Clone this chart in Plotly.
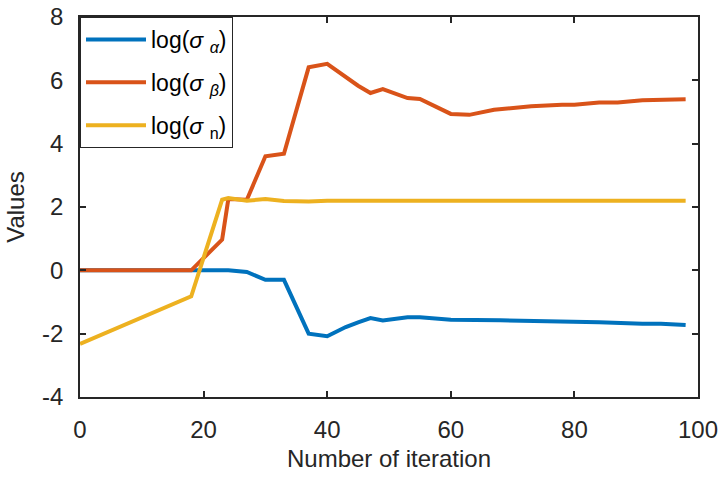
import plotly.graph_objects as go

x_alpha = [0, 18, 20, 24, 27, 30, 33, 37, 40, 43, 45, 47, 49, 53, 55, 60, 68, 80, 84, 91, 94, 98]
y_alpha = [0, 0, 0.02, 0.0, -0.05, -0.30, -0.30, -2.0, -2.08, -1.79, -1.64, -1.51, -1.58, -1.48, -1.48, -1.56, -1.58, -1.61, -1.64, -1.69, -1.69, -1.73]

x_beta = [0, 18, 23, 24, 27, 30, 33, 37, 40, 44, 45, 47, 49, 53, 55, 60, 63, 67, 71, 73, 78, 80, 84, 87, 91, 94, 98]
y_beta = [0, 0, 0.97, 2.25, 2.23, 3.6, 3.68, 6.41, 6.52, 5.95, 5.83, 5.60, 5.72, 5.44, 5.41, 4.94, 4.91, 5.07, 5.16, 5.18, 5.23, 5.23, 5.30, 5.30, 5.37, 5.37, 5.40]

x_n = [0, 18, 23, 24, 27, 30, 33, 37, 40, 50, 60, 80, 98]
y_n = [-2.32, -0.82, 2.23, 2.28, 2.20, 2.25, 2.19, 2.17, 2.20, 2.20, 2.20, 2.20, 2.20]

x_ticks = [0, 20, 40, 60, 80, 100]
y_ticks = [-4, -2, 0, 2, 4, 6, 8]

names = ["log(<i>σ</i> <sub><i>α</i></sub>)", "log(<i>σ</i> <sub><i>β</i></sub>)", "log(<i>σ</i> <sub>n</sub>)"]
colors = ["#0072BD", "#D95319", "#EDB120"]

FONT = "Liberation Sans, Arial, sans-serif"

fig = go.Figure()
for i, (xs, ys) in enumerate([(x_alpha, y_alpha), (x_beta, y_beta), (x_n, y_n)]):
    fig.add_trace(go.Scatter(x=xs, y=ys, mode="lines", name=names[i], legendgroup=str(i),
                             line=dict(color=colors[i], width=4)))

axis_common = dict(showline=True, linecolor="#262626", linewidth=1.5, mirror="ticks",
                   ticks="inside", ticklen=6, tickwidth=1.5, tickcolor="#262626",
                   showgrid=False, zeroline=False, ticklabelstandoff=10, automargin=False,
                   tickfont=dict(family=FONT, size=24, color="#262626"),
                   title_font=dict(family=FONT, size=24, color="#262626"))

fig.update_xaxes(range=[0, 100], tickvals=x_ticks, ticktext=[str(v) for v in x_ticks],
                 title_text="Number of iteration", title_standoff=9, **axis_common)
fig.update_yaxes(range=[-4, 8], tickvals=y_ticks, ticktext=[str(v) for v in y_ticks],
                 title_text="Values", title_standoff=11, **axis_common)

fig.update_layout(
    width=723, height=480,
    margin=dict(l=80, r=25, t=17, b=83),
    plot_bgcolor="white", paper_bgcolor="white",
    legend=dict(x=0, y=1, xanchor="left", yanchor="top", bordercolor="#262626", borderwidth=1,
                bgcolor="white", tracegroupgap=10, itemwidth=60,
                font=dict(family=FONT, size=23, color="#000000")),
)

fig.write_html("out.html")
